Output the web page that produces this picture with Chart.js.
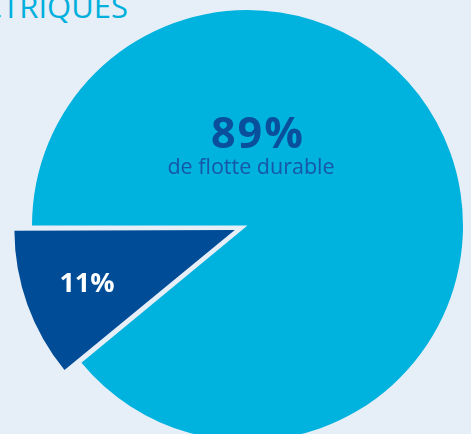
<!DOCTYPE html>
<html>
<head>
<meta charset="utf-8">
<script src="https://cdn.jsdelivr.net/npm/chart.js@4"></script>
<style>
  html, body { margin:0; padding:0; }
  body { width:471px; height:434px; overflow:hidden; background:#e6eef8; position:relative; font-family:"Open Sans", sans-serif; }
  #wrap { position:absolute; left:5px; top:-17px; width:485px; height:485px; }
  .t { position:absolute; white-space:nowrap; line-height:1; }
  #head { right:343px; top:-9.5px; font-size:31px; color:#00b0dc; font-weight:400; }
  #big { left:158px; top:110px; width:200px; text-align:center; font-size:43px; font-weight:700; color:#0a4f9c; letter-spacing:2px; }
  #sub { left:131px; top:155px; width:240px; text-align:center; font-size:21.5px; color:#1658a5; }
  #small { left:37px; top:268px; width:100px; text-align:center; font-size:27px; font-weight:700; color:#ffffff; }
</style>
</head>
<body>
<div class="t" id="head">ÉLECTRIQUES</div>
<div id="wrap"><canvas id="c"></canvas></div>
<div class="t" id="big">89%</div>
<div class="t" id="sub">de flotte durable</div>
<div class="t" id="small">11%</div>
<script>
const categories = ["Autre", "Flotte durable"];
const values = [11, 89];
const colors = ["#004c97", "#00b2de"];
const offsets = [54, 0];

new Chart(document.getElementById('c'), {
  type: 'pie',
  data: {
    labels: categories,
    datasets: [{
      data: values,
      backgroundColor: colors,
      borderWidth: 0,
      offset: offsets,
      hoverOffset: 0
    }]
  },
  options: {
    responsive: true,
    maintainAspectRatio: false,
    animation: false,
    events: [],
    rotation: 230.4,
    layout: { padding: 0 },
    plugins: { legend: { display: false }, tooltip: { enabled: false } }
  }
});
</script>
</body>
</html>
